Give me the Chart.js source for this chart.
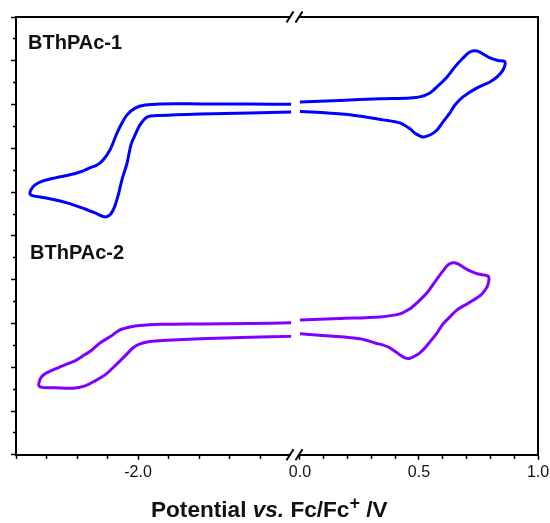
<!DOCTYPE html>
<html>
<head>
<meta charset="utf-8">
<script src="https://cdn.jsdelivr.net/npm/chart.js@4.4.0/dist/chart.umd.min.js"></script>
<style>
  body { margin: 0; background: #fff; }
  #wrap { position: relative; width: 550px; height: 523px; }
  .lbl { position: absolute; font: bold 20px/20px "Liberation Sans", Arial, sans-serif; color: #111; white-space: nowrap; }
  #xtitle { position: absolute; left: 151px; top: 499px; font: bold 22.6px/22px "Liberation Sans", Arial, sans-serif; color: #111; white-space: nowrap; }
  #xtitle sup { font-size: 0.8em; line-height: 0; vertical-align: 0.45em; }
</style>
</head>
<body>
<div id="wrap">
  <canvas id="cvChart" width="550" height="523"></canvas>
  <div class="lbl" style="left:28px; top:32px;">BThPAc-1</div>
  <div class="lbl" style="left:30px; top:242px;">BThPAc-2</div>
  <div id="xtitle">Potential <i>vs.</i> Fc/Fc<sup>+</sup> /V</div>
</div>
<script>
// BThPAc-1，断轴左侧（还原峰）
const cv1NegE = [-1.373, -1.541, -1.746, -1.910, -1.971, -2.012, -2.045, -2.070, -2.086, -2.115,
  -2.143, -2.168, -2.197, -2.238, -2.279, -2.340, -2.389, -2.422, -2.439, -2.443,
  -2.430, -2.381, -2.291, -2.217, -2.176, -2.139, -2.115, -2.098, -2.082, -2.066,
  -2.045, -2.029, -2.012, -1.992, -1.963, -1.910, -1.746, -1.541, -1.373];
const cv1NegI = [16.01, 16.02, 16.03, 16.03, 15.98, 15.84, 15.53, 15.07, 14.70, 13.93,
  13.47, 13.24, 13.11, 12.92, 12.79, 12.65, 12.51, 12.33, 12.10, 11.92,
  11.83, 11.74, 11.51, 11.23, 11.05, 10.87, 10.96, 11.28, 11.83, 12.56,
  13.33, 14.16, 14.61, 15.07, 15.43, 15.50, 15.57, 15.62, 15.66];

// BThPAc-1，断轴右侧（氧化峰）
const cv1PosE = [0.000, 0.168, 0.336, 0.462, 0.504, 0.546, 0.580, 0.618, 0.651, 0.681,
  0.714, 0.744, 0.769, 0.798, 0.832, 0.861,
  0.853, 0.828, 0.798, 0.744, 0.685, 0.651, 0.630, 0.601, 0.576, 0.546,
  0.517, 0.487, 0.462, 0.420, 0.349, 0.210, 0.084, 0.000];
const cv1PosI = [16.12, 16.19, 16.26, 16.30, 16.35, 16.53, 16.85, 17.26, 17.72, 18.08,
  18.40, 18.45, 18.31, 18.13, 18.01, 17.95,
  17.58, 17.26, 17.03, 16.76, 16.35, 15.98, 15.62, 15.21, 14.84, 14.61,
  14.52, 14.66, 14.89, 15.16, 15.30, 15.53, 15.64, 15.68];

// BThPAc-2，断轴左侧
const cv2NegE = [-1.373, -1.541, -1.746, -1.910, -1.992, -2.033, -2.074, -2.115, -2.156, -2.189,
  -2.225, -2.258, -2.299, -2.348, -2.381, -2.398, -2.406, -2.406,
  -2.393, -2.340, -2.266, -2.217, -2.176, -2.135, -2.107, -2.082, -2.053, -2.020,
  -1.992, -1.951, -1.881, -1.746, -1.541, -1.373];
const cv2NegI = [6.03, 6.00, 5.98, 5.96, 5.91, 5.84, 5.71, 5.39, 5.11, 4.79,
  4.52, 4.29, 4.11, 3.88, 3.70, 3.52, 3.29, 3.15,
  3.08, 3.06, 3.04, 3.15, 3.38, 3.65, 3.93, 4.20, 4.52, 4.89,
  5.07, 5.18, 5.23, 5.30, 5.37, 5.41];

// BThPAc-2，断轴右侧
const cv2PosE = [0.000, 0.168, 0.336, 0.420, 0.462, 0.496, 0.534, 0.567, 0.601, 0.622,
  0.643, 0.664, 0.685, 0.714, 0.748, 0.790, 0.794,
  0.786, 0.765, 0.744, 0.702, 0.660, 0.630, 0.601, 0.576, 0.546, 0.517,
  0.492, 0.462, 0.441, 0.408, 0.370, 0.315, 0.252, 0.126, 0.000];
const cv2PosI = [6.16, 6.23, 6.30, 6.44, 6.67, 6.99, 7.40, 7.90, 8.40, 8.68,
  8.77, 8.72, 8.58, 8.40, 8.26, 8.17, 7.99,
  7.67, 7.35, 7.17, 6.89, 6.62, 6.30, 5.98, 5.57, 5.16, 4.79,
  4.57, 4.41, 4.43, 4.66, 4.93, 5.11, 5.30, 5.43, 5.53];

// 刻度位置与标签
const negTicks = [-2.5, -2.375, -2.25, -2.125, -2.0, -1.875, -1.75, -1.625, -1.5];
const posTicks = [0.0, 0.1, 0.2, 0.3, 0.4, 0.5, 0.6, 0.7, 0.8, 0.9, 1.0];
const negTickLabels = [-2.0];
const posTickLabels = [0.0, 0.5, 1.0];

const blue = "#0000ff";
const purple = "#8000ff";

function toPoints(xs, ys) {
  return xs.map((x, i) => ({ x: x, y: ys[i] }));
}

function curve(xs, ys, color, xAxisID) {
  return {
    data: toPoints(xs, ys),
    xAxisID: xAxisID,
    yAxisID: "y",
    showLine: true,
    borderColor: color,
    borderWidth: 3,
    pointRadius: 0,
    tension: 0.3,
    fill: false,
  };
}

function near(list, v) {
  return list.some((t) => Math.abs(t - v) < 1e-6);
}

// 断轴记号
const axisBreak = {
  id: "axisBreak",
  afterDraw(chart) {
    const ctx = chart.ctx;
    const bx = chart.scales.x1.right;
    const area = chart.chartArea;
    ctx.save();
    [area.top, area.bottom].forEach((y) => {
      ctx.fillStyle = "#fff";
      ctx.fillRect(bx - 3, y - 2, 7, 4);
      ctx.strokeStyle = "#000";
      ctx.lineWidth = 2;
      [bx - 4, bx + 5].forEach((cx) => {
        ctx.beginPath();
        ctx.moveTo(cx - 3.5, y + 5.5);
        ctx.lineTo(cx + 3.5, y - 5.5);
        ctx.stroke();
      });
    });
    ctx.restore();
  },
};

const noPad = (scale) => {
  scale.paddingLeft = 0;
  scale.paddingRight = 0;
};

function bottomAxis(lo, hi, weight, tickList, labelList) {
  return {
    type: "linear",
    position: "bottom",
    stack: "bx",
    stackWeight: weight,
    min: lo,
    max: hi,
    afterBuildTicks: (scale) => {
      scale.ticks = tickList.map((v) => ({ value: v }));
    },
    afterFit: noPad,
    ticks: {
      autoSkip: false,
      maxRotation: 0,
      font: { size: 16 },
      callback: (v) => (near(labelList, v) ? v.toFixed(1) : ""),
    },
    grid: {
      display: true,
      drawOnChartArea: false,
      tickLength: 5,
      tickWidth: 1.5,
      tickColor: "#000",
      tickBorderDash: (c) => (c.tick && near(labelList, c.tick.value) ? [] : [3, 20]),
    },
    border: { display: true, color: "#000", width: 2 },
  };
}

Chart.defaults.font.family = '"Liberation Sans", Arial, sans-serif';
Chart.defaults.color = "#111";

new Chart(document.getElementById("cvChart"), {
  type: "scatter",
  data: {
    datasets: [
      curve(cv1NegE, cv1NegI, blue, "x1"),
      curve(cv1PosE, cv1PosI, blue, "x2"),
      curve(cv2NegE, cv2NegI, purple, "x1"),
      curve(cv2PosE, cv2PosI, purple, "x2"),
    ],
  },
  options: {
    responsive: false,
    animation: false,
    layout: { padding: { left: 11, top: 17, right: 12, bottom: 38 } },
    plugins: { legend: { display: false }, tooltip: { enabled: false } },
    scales: {
      x1: bottomAxis(-2.5, -1.361, 278, negTicks, negTickLabels),
      x2: bottomAxis(-0.025, 1.0, 244, posTicks, posTickLabels),
      xt: {
        type: "linear",
        position: "top",
        min: 0,
        max: 1,
        afterFit: noPad,
        ticks: { display: false },
        grid: { display: false, drawTicks: false },
        border: { display: true, color: "#000", width: 2 },
      },
      y: {
        type: "linear",
        position: "left",
        min: 0,
        max: 20,
        ticks: { display: false, stepSize: 1 },
        grid: {
          display: true,
          drawOnChartArea: false,
          tickLength: 5,
          tickWidth: 1.5,
          tickColor: "#000",
          tickBorderDash: (c) => (c.tick && c.tick.value % 2 === 0 ? [] : [0, 2, 3, 20]),
        },
        border: { display: true, color: "#000", width: 2 },
      },
      yr: {
        type: "linear",
        position: "right",
        min: 0,
        max: 20,
        ticks: { display: false },
        grid: { display: false, drawTicks: false },
        border: { display: true, color: "#000", width: 2 },
      },
    },
  },
  plugins: [axisBreak],
});
</script>
</body>
</html>
